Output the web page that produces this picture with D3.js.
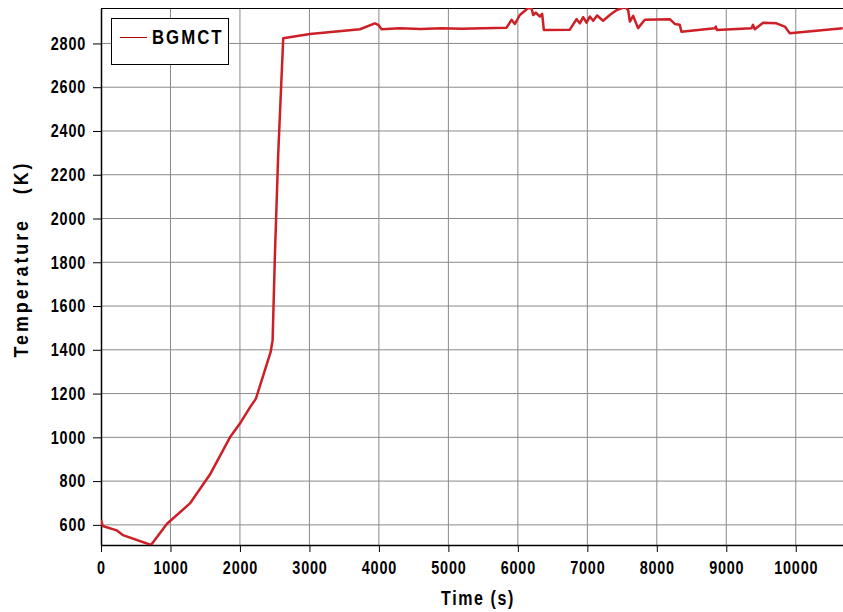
<!DOCTYPE html>
<html>
<head>
<meta charset="utf-8">
<script src="https://cdn.jsdelivr.net/npm/d3@7"></script>
<style>
  body { margin: 0; background: #fff; }
  text { font-family: "Liberation Sans", Arial, sans-serif; font-weight: bold; }
</style>
</head>
<body>
<div id="container"></div>
<script>
/* CONSTANTS AND GLOBALS */
const width = 843;
const height = 612;
const margin = ({top: 8, right: 0, bottom: 67, left: 101});
const narrow = 0.8; // the original uses a condensed face, squeeze the text

/* DATA */
const seriesName = "BGMCT";
const timeS = [0, 25, 226, 317, 720, 950, 1280, 1568, 1856, 2010, 2144, 2230, 2441, 2470, 2504, 2551, 2623,
  3007, 3727, 3942, 3990, 4039, 4300, 4600, 4900, 5200, 5500, 5837, 5909, 5957, 6029, 6148, 6197,
  6221, 6259, 6317, 6350, 6374, 6748, 6845, 6892, 6940, 6988, 7036, 7084, 7141, 7227, 7324, 7424,
  7540, 7588, 7612, 7660, 7730, 7827, 8187, 8259, 8330, 8355, 8835, 8850, 8865, 9363, 9385, 9410,
  9530, 9722, 9842, 9914, 10676];
const tempK = [623, 595, 575, 553, 508, 605, 698, 830, 1000, 1068, 1137, 1177, 1389, 1443, 1841, 2297, 2824,
  2843, 2865, 2892, 2885, 2865, 2869, 2866, 2870, 2867, 2869, 2872, 2908, 2889, 2930, 2962, 2961,
  2930, 2941, 2923, 2935, 2862, 2863, 2911, 2892, 2920, 2895, 2923, 2904, 2928, 2904, 2930, 2953,
  2966, 2953, 2900, 2926, 2870, 2908, 2911, 2889, 2885, 2854, 2870, 2877, 2862, 2870, 2885, 2865,
  2895, 2892, 2877, 2847, 2870];
const xTicks = d3.range(0, 10001, 1000);
const yTicks = d3.range(600, 2801, 200);
const xDomain = [0, 10680];
const yDomain = [508, 2962];

const data = timeS.map((t, i) => ({t: t, T: tempK[i]}));

/* SCALES */
const xScale = d3.scaleLinear(xDomain, [margin.left, width - margin.right]);
const yScale = d3.scaleLinear(yDomain, [height - margin.bottom, margin.top]);

/* HTML ELEMENTS */
const svg = d3.select("#container")
  .append("svg")
  .attr("width", width)
  .attr("height", height);

svg.append("clipPath").attr("id", "plot")
  .append("rect")
  .attr("x", margin.left).attr("y", margin.top)
  .attr("width", width - margin.left - margin.right)
  .attr("height", height - margin.top - margin.bottom);

// grid
svg.append("g")
  .selectAll("line")
  .data(xTicks.slice(1))
  .join("line")
  .attr("x1", d => xScale(d)).attr("x2", d => xScale(d))
  .attr("y1", margin.top).attr("y2", height - margin.bottom)
  .attr("stroke", "#8a8a8a").attr("stroke-width", 1);

svg.append("g")
  .selectAll("line")
  .data(yTicks)
  .join("line")
  .attr("y1", d => yScale(d)).attr("y2", d => yScale(d))
  .attr("x1", margin.left).attr("x2", width - margin.right)
  .attr("stroke", "#8a8a8a").attr("stroke-width", 1);

// top border
svg.append("line")
  .attr("x1", margin.left).attr("x2", width)
  .attr("y1", margin.top + 0.5).attr("y2", margin.top + 0.5)
  .attr("stroke", "#000");

// axes
const xAxis = d3.axisBottom(xScale).tickValues(xTicks).tickFormat(d3.format("d"))
  .tickSize(7).tickSizeOuter(0).tickPadding(9);
const yAxis = d3.axisLeft(yScale).tickValues(yTicks).tickFormat(d3.format("d"))
  .tickSize(8).tickSizeOuter(0).tickPadding(7);

svg.append("g")
  .attr("transform", `translate(0, ${height - margin.bottom})`)
  .call(xAxis)
  .call(g => g.select(".domain").attr("stroke", "#000").attr("stroke-width", 1.5))
  .selectAll(".tick text")
  .attr("font-size", "18px")
  .attr("letter-spacing", "1px")
  .attr("fill", "#000")
  .attr("transform", `scale(${narrow},1)`);

svg.append("g")
  .attr("transform", `translate(${margin.left}, 0)`)
  .call(yAxis)
  .call(g => g.select(".domain").attr("stroke", "#000").attr("stroke-width", 1.5))
  .selectAll(".tick text")
  .attr("font-size", "18px")
  .attr("letter-spacing", "1px")
  .attr("fill", "#000")
  .attr("x", -15 / narrow)
  .attr("transform", `scale(${narrow},1)`);

// the curve
const line = d3.line().x(d => xScale(d.t)).y(d => yScale(d.T));
svg.append("path")
  .datum(data)
  .attr("clip-path", "url(#plot)")
  .attr("fill", "none")
  .attr("stroke", "#cc1f26")
  .attr("stroke-width", 2.5)
  .attr("stroke-linejoin", "round")
  .attr("d", line);

// axis titles
svg.append("text")
  .attr("transform", `translate(478, 605) scale(${narrow},1)`)
  .attr("text-anchor", "middle")
  .attr("font-size", "20px")
  .attr("letter-spacing", "2px")
  .text("Time (s)");

svg.append("text")
  .attr("transform", "translate(28, 259) rotate(-90) scale(0.85,1)")
  .attr("text-anchor", "middle")
  .attr("font-size", "21px")
  .attr("letter-spacing", "3.5px")
  .style("white-space", "pre")
  .text("Temperature   (K)");

// legend
const legend = svg.append("g");
legend.append("rect")
  .attr("x", 111.5).attr("y", 18.5).attr("width", 117).attr("height", 46)
  .attr("fill", "#fff").attr("stroke", "#000").attr("stroke-width", 1);
legend.append("line")
  .attr("x1", 120).attr("x2", 147).attr("y1", 37.5).attr("y2", 37.5)
  .attr("stroke", "#b00000").attr("stroke-width", 1);
legend.append("text")
  .attr("transform", `translate(152, 43.5) scale(${narrow},1)`)
  .attr("font-size", "21px")
  .attr("letter-spacing", "2.5px")
  .text(seriesName);
</script>
</body>
</html>
